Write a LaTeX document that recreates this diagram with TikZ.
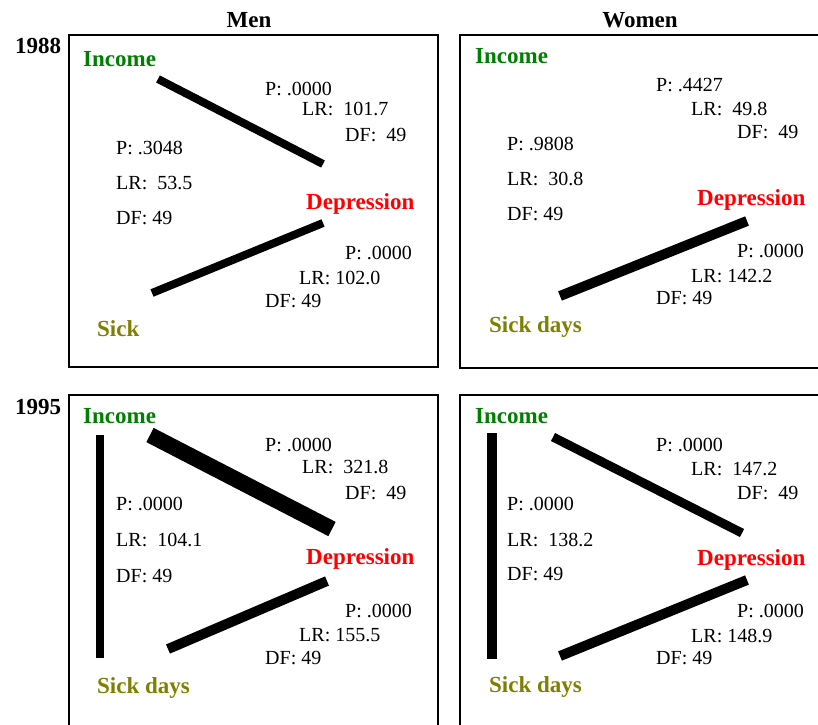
\documentclass[tikz,border=0pt]{standalone}
\usepackage{fontspec}
\setmainfont{Liberation Serif}
\definecolor{incgreen}{RGB}{0,128,0}
\definecolor{deprred}{RGB}{255,0,0}
\definecolor{sickolive}{RGB}{128,128,0}
\begin{document}
\begin{tikzpicture}[x=1pt,y=-1pt,
  stat/.style={anchor=base west, inner sep=0, font=\fontsize{20}{24}\selectfont},
  varname/.style={anchor=base west, inner sep=0, font=\fontsize{23}{27}\selectfont\bfseries},
  head/.style={anchor=base, inner sep=0, font=\fontsize{23}{27}\selectfont\bfseries},
  inc/.style={varname, text=incgreen},
  dep/.style={varname, text=deprred},
  sick/.style={varname, text=sickolive},
  panel/.style={draw=black, line width=1.5pt},
  link/.style={draw=black, line width=#1}]
\useasboundingbox (0,0) rectangle (818,724);
\clip (0,0) rectangle (818,724);
% headings
\node[head] (men) at (249,27) {Men};
\node[head] (women) at (640,27) {Women};
\node[head] (y88) at (38,53) {1988};
\node[head] (y95) at (38,414) {1995};
% panels
\draw[panel] (69,35) rectangle (438,367);
\draw[panel] (460,35) rectangle (840,368);
\draw[panel] (69,395) rectangle (438,740);
\draw[panel] (460,395) rectangle (840,740);

% ---- Men 1988
\node[inc] (i1) at (83,66) {Income};
\node[dep] (d1) at (306,209) {Depression};
\node[sick] (s1) at (97,336) {Sick};
\coordinate (i1a) at (158,79); \coordinate (d1a) at (323,164);
\coordinate (s1b) at (152,293); \coordinate (d1b) at (323,223);
\draw[link=8pt] (i1a) -- (d1a);
\draw[link=8pt] (s1b) -- (d1b);
\node[stat] at (265,95) {P: .0000};
\node[stat] at (302,115) {LR:\ \ 101.7};
\node[stat] at (345,141) {DF:\ \ 49};
\node[stat] at (116,154) {P: .3048};
\node[stat] at (116,189) {LR:\ \ 53.5};
\node[stat] at (116,224) {DF: 49};
\node[stat] at (345,259) {P: .0000};
\node[stat] at (299,284) {LR: 102.0};
\node[stat] at (265,307) {DF: 49};

% ---- Women 1988
\node[inc] (i2) at (475,63) {Income};
\node[dep] (d2) at (697,205) {Depression};
\node[sick] (s2) at (489,332) {Sick days};
\coordinate (s2b) at (560,296); \coordinate (d2b) at (747,221);
\draw[link=10pt] (s2b) -- (d2b);
\node[stat] at (656,91) {P: .4427};
\node[stat] at (691,115) {LR:\ \ 49.8};
\node[stat] at (737,138) {DF:\ \ 49};
\node[stat] at (507,150) {P: .9808};
\node[stat] at (507,185) {LR:\ \ 30.8};
\node[stat] at (507,220) {DF: 49};
\node[stat] at (737,257) {P: .0000};
\node[stat] at (691,282) {LR: 142.2};
\node[stat] at (656,304) {DF: 49};

% ---- Men 1995
\node[inc] (i3) at (83,423) {Income};
\node[dep] (d3) at (306,564) {Depression};
\node[sick] (s3) at (97,693) {Sick days};
\coordinate (i3a) at (150,435); \coordinate (d3a) at (332,529);
\coordinate (i3c) at (100,435); \coordinate (s3c) at (100,658);
\coordinate (s3b) at (168,649); \coordinate (d3b) at (327,581);
\draw[link=16pt] (i3a) -- (d3a);
\draw[link=8pt] (i3c) -- (s3c);
\draw[link=10pt] (s3b) -- (d3b);
\node[stat] at (265,451) {P: .0000};
\node[stat] at (302,473) {LR:\ \ 321.8};
\node[stat] at (345,499) {DF:\ \ 49};
\node[stat] at (116,510) {P: .0000};
\node[stat] at (116,546) {LR:\ \ 104.1};
\node[stat] at (116,582) {DF: 49};
\node[stat] at (345,617) {P: .0000};
\node[stat] at (299,641) {LR: 155.5};
\node[stat] at (265,664) {DF: 49};

% ---- Women 1995
\node[inc] (i4) at (475,423) {Income};
\node[dep] (d4) at (697,565) {Depression};
\node[sick] (s4) at (489,692) {Sick days};
\coordinate (i4a) at (553,437); \coordinate (d4a) at (742,533);
\coordinate (i4c) at (492,433); \coordinate (s4c) at (492,659);
\coordinate (s4b) at (560,656); \coordinate (d4b) at (747,580);
\draw[link=9pt] (i4a) -- (d4a);
\draw[link=10pt] (i4c) -- (s4c);
\draw[link=10pt] (s4b) -- (d4b);
\node[stat] at (656,451) {P: .0000};
\node[stat] at (691,475) {LR:\ \ 147.2};
\node[stat] at (737,499) {DF:\ \ 49};
\node[stat] at (507,510) {P: .0000};
\node[stat] at (507,546) {LR:\ \ 138.2};
\node[stat] at (507,580) {DF: 49};
\node[stat] at (737,617) {P: .0000};
\node[stat] at (691,642) {LR: 148.9};
\node[stat] at (656,664) {DF: 49};
\end{tikzpicture}
\end{document}
